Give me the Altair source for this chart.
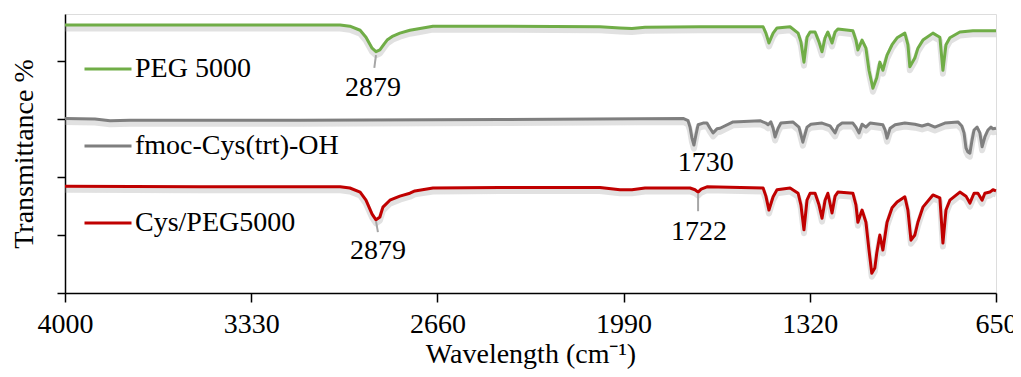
import altair as alt
import pandas as pd

FONT = "Liberation Serif"

# ---- spectra (wavenumber cm-1, transmittance offset units) ----
peg_wn = [4000, 3514, 3010, 2975, 2938, 2917, 2895, 2881, 2867, 2852, 2841, 2820, 2795, 2759, 2733, 2676,
          2435, 2075, 2003, 1960, 1913, 1715, 1488, 1478, 1467, 1452, 1438, 1391, 1362, 1352, 1341, 1330,
          1319, 1301, 1287, 1276, 1265, 1255, 1240, 1229, 1219, 1165, 1154, 1147, 1132, 1118, 1107, 1093,
          1079, 1068, 1057, 1042, 1024, 1006, 978, 967, 960, 942, 931, 913, 877, 852, 841, 830, 816, 780,
          733, 650]
peg_t = [46.2, 46.2, 46.2, 46.0, 45.3, 44.1, 42.2, 41.6, 41.9, 42.9, 43.6, 44.3, 44.8, 45.3, 45.5, 46.0,
         46.0, 45.9, 45.7, 45.6, 45.8, 45.9, 45.9, 44.8, 43.1, 44.8, 45.7, 45.9, 44.8, 43.3, 39.8, 44.1,
         45.0, 45.0, 43.3, 41.6, 44.0, 45.0, 43.1, 45.0, 45.5, 45.2, 43.6, 41.9, 43.6, 42.2, 38.4, 35.3,
         37.1, 39.8, 38.4, 41.0, 42.8, 44.0, 44.8, 42.8, 39.0, 40.5, 42.2, 43.6, 44.8, 44.1, 38.4, 42.8,
         44.0, 45.0, 45.2, 45.2]

fmoc_wn = [4000, 3892, 3838, 3766, 3154, 2435, 1776, 1758, 1751, 1744, 1737, 1730, 1722, 1704, 1690, 1679,
           1668, 1654, 1643, 1596, 1499, 1478, 1470, 1460, 1452, 1445, 1434, 1424, 1381, 1359, 1345, 1330,
           1316, 1276, 1247, 1229, 1219, 1204, 1165, 1154, 1143, 1132, 1118, 1103, 1057, 1049, 1042, 1031,
           1013, 978, 942, 916, 895, 870, 834, 787, 773, 765, 758, 751, 744, 736, 729, 718, 708, 700, 690,
           679, 668, 661, 650]
fmoc_t = [30.1, 30.0, 29.7, 29.8, 29.8, 29.9, 30.1, 29.7, 28.6, 26.7, 25.5, 27.2, 29.0, 29.3, 29.3, 28.4,
          27.6, 28.3, 28.4, 29.5, 29.7, 29.3, 29.0, 29.5, 28.4, 26.9, 28.4, 29.3, 29.5, 28.6, 26.0, 28.6,
          29.1, 29.3, 28.8, 27.6, 28.8, 29.3, 29.3, 28.6, 27.6, 29.1, 28.6, 29.3, 29.0, 28.1, 26.7, 28.4,
          29.0, 29.3, 29.1, 28.8, 29.1, 28.6, 29.3, 29.5, 28.8, 27.6, 25.0, 24.3, 24.1, 26.4, 28.1, 28.6,
          27.6, 25.2, 26.9, 28.1, 28.6, 28.3, 28.4]

cys_wn = [4000, 3514, 3010, 2975, 2938, 2917, 2895, 2881, 2867, 2856, 2831, 2795, 2759, 2741, 2676, 2435,
          2075, 2003, 1960, 1913, 1751, 1733, 1722, 1711, 1690, 1488, 1478, 1467, 1452, 1438, 1391, 1362,
          1352, 1341, 1330, 1319, 1301, 1287, 1276, 1265, 1255, 1240, 1229, 1219, 1165, 1154, 1147, 1132,
          1118, 1107, 1097, 1086, 1079, 1068, 1057, 1042, 1024, 1006, 978, 967, 956, 942, 931, 913, 877,
          852, 841, 830, 816, 780, 758, 744, 729, 715, 700, 690, 672, 661, 650]
cys_t = [18.4, 18.3, 18.3, 18.1, 17.4, 16.0, 13.6, 12.6, 13.1, 14.8, 16.0, 16.7, 17.2, 17.6, 18.1, 18.2,
         18.2, 17.8, 17.8, 18.1, 18.1, 17.8, 17.4, 17.9, 18.3, 18.1, 16.7, 14.3, 16.6, 17.8, 18.1, 17.2,
         15.2, 10.9, 16.0, 17.2, 17.2, 15.2, 12.9, 16.0, 17.2, 13.8, 16.7, 17.4, 17.2, 15.2, 12.2, 14.3,
         12.2, 7.4, 3.4, 4.3, 6.9, 10.0, 7.4, 12.2, 14.7, 15.7, 16.6, 14.3, 9.1, 10.0, 12.2, 14.8, 16.9,
         16.4, 8.6, 14.3, 16.0, 17.4, 16.7, 15.5, 17.2, 17.2, 16.0, 17.2, 17.4, 17.8, 17.6]

series_names = ["PEG 5000", "fmoc-Cys(trt)-OH", "Cys/PEG5000"]
series_colors = ["#70AD47", "#7F7F7F", "#C00000"]

# ---- peak annotations ----
ann_text = ["2879", "1730", "1722", "2879"]
ann_wn = [2892, 1694, 1719, 2874]
ann_t = [35.3, 22.4, 10.5, 7.2]

lead_wn = [2881, 2881, 1722]
lead_wn2 = [2887, 2874, 1722]
lead_t = [41.0, 12.4, 17.1]
lead_t2 = [38.8, 10.5, 14.1]

x_ticks = [4000, 3330, 2660, 1990, 1320, 650]
y_ticks = [0, 10, 20, 30, 40]

rows = []
for name, wns, ts in [(series_names[0], peg_wn, peg_t),
                      (series_names[1], fmoc_wn, fmoc_t),
                      (series_names[2], cys_wn, cys_t)]:
    for i, (w, t) in enumerate(zip(wns, ts)):
        rows.append({"series": name, "wn": w, "t": t, "order": i})
spec_df = pd.DataFrame(rows)
ann_df = pd.DataFrame({"label": ann_text, "wn": ann_wn, "t": ann_t})
lead_df = pd.DataFrame({"wn": lead_wn, "wn2": lead_wn2, "t": lead_t, "t2": lead_t2})

FS = 28
xscale = alt.Scale(domain=[4000, 650], nice=False, zero=False)
yscale = alt.Scale(domain=[0, 48.1], nice=False, zero=False)
xaxis = alt.Axis(values=x_ticks, format="d", title="Wavelength (cm⁻¹)", grid=False,
                 labelFont=FONT, labelFontSize=FS, labelColor="black", labelPadding=8,
                 titleFont=FONT, titleFontSize=FS, titleFontWeight="normal", titleColor="black",
                 titlePadding=2, domainColor="black", domainWidth=1.5, tickColor="black",
                 tickWidth=1.5, tickSize=9, labelFlush=False, labelOverlap=False)
yaxis = alt.Axis(values=y_ticks, labels=False, title="Transmittance %", grid=False,
                 titleFont=FONT, titleFontSize=FS, titleFontWeight="normal", titleColor="black",
                 titlePadding=18, domainColor="black", domainWidth=1.5, tickColor="black",
                 tickWidth=1.5, tickSize=8)

X = alt.X("wn:Q", scale=xscale, axis=xaxis)
Y = alt.Y("t:Q", scale=yscale, axis=yaxis)

shadow = alt.Chart(spec_df).transform_calculate(ts="datum.t - 0.6").mark_line(
    color="#9a9a9a", strokeWidth=6, opacity=0.3, strokeJoin="round"
).encode(x=X, y=alt.Y("ts:Q", scale=yscale, axis=yaxis), detail="series:N", order="order:Q")

lines = alt.Chart(spec_df).mark_line(strokeWidth=3, strokeJoin="round").encode(
    x=X, y=Y, order="order:Q",
    color=alt.Color("series:N",
                    scale=alt.Scale(domain=series_names, range=series_colors),
                    legend=alt.Legend(orient="none", legendX=18, legendY=30, title=None,
                                      symbolType="stroke", symbolSize=2209, symbolStrokeWidth=3,
                                      labelFont=FONT, labelFontSize=FS, labelColor="black",
                                      labelLimit=0, labelOffset=2, rowPadding=38, padding=0)),
)

leaders = alt.Chart(lead_df).mark_rule(color="#A6A6A6", strokeWidth=2).encode(
    x=X, x2="wn2:Q", y=Y, y2="t2:Q")

labels = alt.Chart(ann_df).mark_text(font=FONT, fontSize=FS, color="black",
                                      baseline="middle", align="center").encode(
    x=X, y=Y, text="label:N")

chart = alt.layer(shadow, lines, leaders, labels).properties(
    width=931, height=279,
    autosize=alt.AutoSizeParams(type="none"),
    padding={"left": 57, "top": 6, "right": 17, "bottom": 76},
).configure_view(stroke=None).configure(background="white")

chart.save("out.html", embed_options={"renderer": "svg", "actions": False})
